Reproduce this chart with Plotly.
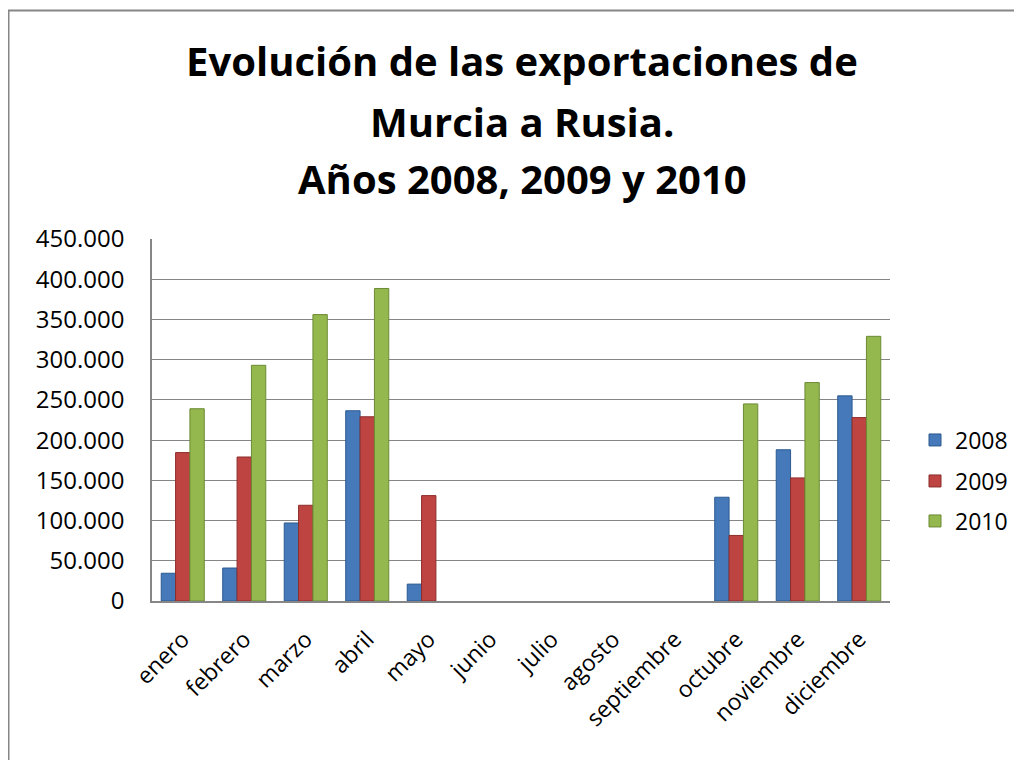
import plotly.graph_objects as go

months = ["enero", "febrero", "marzo", "abril", "mayo", "junio", "julio",
          "agosto", "septiembre", "octubre", "noviembre", "diciembre"]
v2008 = [34500, 41000, 97000, 236500, 21000, None, None, None, None, 129000, 188000, 255000]
v2009 = [184500, 179000, 119000, 229000, 131000, None, None, None, None, 81500, 153000, 228000]
v2010 = [239000, 293000, 356000, 388500, None, None, None, None, None, 245000, 271500, 329000]
series_names = ["2008", "2009", "2010"]
title_lines = ["Evolución de las exportaciones de", "Murcia a Rusia.", "Años 2008, 2009 y 2010"]

colors = ["#4579BA", "#BE4442", "#94B84E"]
edges = ["#2C5A8F", "#8C2D2B", "#6C8A33"]
FONT = "Open Sans"

OFF = 8                       # page body margin
W, H = 1022 - OFF, 760 - OFF  # figure size
L, R, T, B = 152, 890, 239, 601  # plot area in page pixels


def py(p):
    return (B - p) / (B - T)


def px(p):
    return (p - L) / (R - L)


fig = go.Figure()
legend_ids = ["legend", "legend2", "legend3"]
for vals, name, c, e, lg in zip([v2008, v2009, v2010], series_names, colors, edges, legend_ids):
    fig.add_trace(go.Bar(x=months, y=vals, name=name, legend=lg,
                         marker=dict(color=c, line=dict(color=e, width=1))))

legend_y = [440, 481, 521]
legend_common = dict(font=dict(family=FONT, size=23, color="black"),
                     bgcolor="rgba(0,0,0,0)", xanchor="left", yanchor="middle")
fig.update_layout(
    legend=dict(x=px(915), y=py(legend_y[0]), **legend_common),
    legend2=dict(x=px(915), y=py(legend_y[1]), **legend_common),
    legend3=dict(x=px(915), y=py(legend_y[2]), **legend_common),
)

title_y = [60, 121, 178]
for txt, ty in zip(title_lines, title_y):
    fig.add_annotation(text="<b>" + txt + "</b>", xref="paper", yref="paper",
                       x=px(522), y=py(ty), xanchor="center", yanchor="middle",
                       showarrow=False, font=dict(family=FONT, size=40, color="black"))

# outer chart frame
fig.add_shape(type="rect", xref="paper", yref="paper",
              x0=px(8.5), x1=px(1200), y0=py(10.5), y1=py(1000),
              line=dict(color="#868686", width=2), fillcolor="rgba(0,0,0,0)", layer="below")

fig.update_layout(
    width=W, height=H,
    margin=dict(l=L - OFF, r=W - (R - OFF), t=T - OFF, b=H - (B - OFF), autoexpand=False),
    paper_bgcolor="white", plot_bgcolor="white",
    separators=",.",
    barmode="group", bargap=0.3, bargroupgap=0,
    showlegend=True,
    font=dict(family=FONT, size=23, color="black"),
    xaxis=dict(tickangle=-45, showline=True, linecolor="#868686", linewidth=1.5,
               tickfont=dict(family=FONT, size=23, color="black"), showgrid=False,
               ticks="", ticklabelstandoff=14),
    yaxis=dict(range=[0, 450000], dtick=50000, tickformat=",d",
               showline=True, linecolor="#868686", linewidth=1.5,
               showgrid=True, gridcolor="#868686", gridwidth=1.2,
               tickfont=dict(family=FONT, size=24, color="black"),
               ticks="", ticklen=0, zeroline=False, ticklabelstandoff=21),
)

fig.write_html("out.html")
